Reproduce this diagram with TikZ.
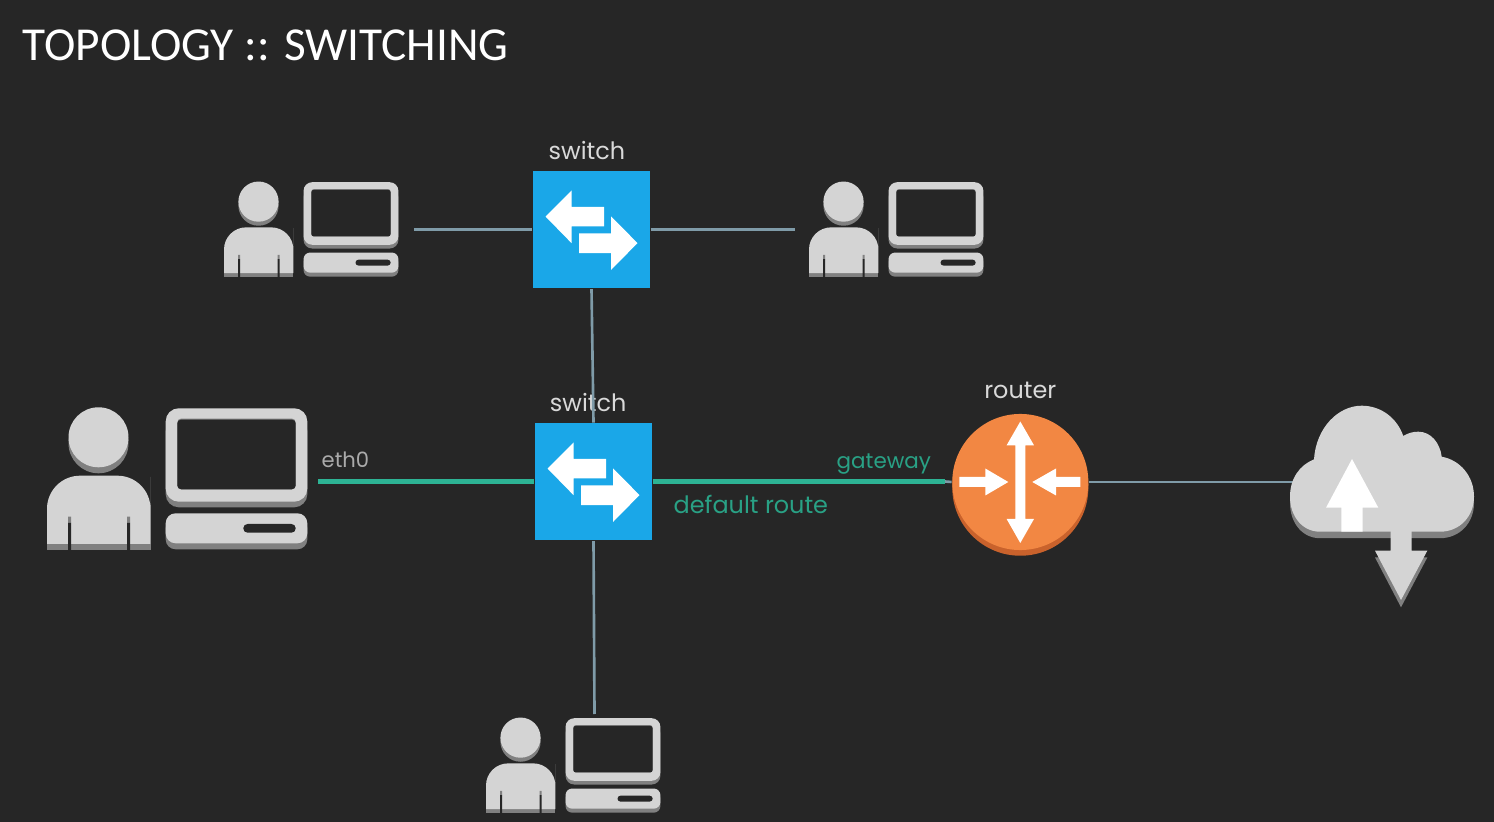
\documentclass[tikz,border=0pt]{standalone}
\usepackage{fontspec}
\usetikzlibrary{positioning}
\setmainfont{Carlito}
\newfontfamily\labelfont{Poppins}
\definecolor{bgdark}{HTML}{262626}
\definecolor{iconlight}{HTML}{D4D4D4}
\definecolor{iconshade}{HTML}{808080}
\definecolor{swblue}{HTML}{1AA7E8}
\definecolor{rtorange}{HTML}{F28743}
\definecolor{rtedge}{HTML}{C9622C}
\definecolor{routegreen}{HTML}{2DB394}
\definecolor{linkgrey}{HTML}{7F9BA8}
\tikzset{
  switchbox/.style={draw=none, fill=swblue, rectangle, minimum size=1.17cm, inner sep=0pt},
  routerdisc/.style={draw=none, fill=rtorange, circle, minimum size=1.36cm, inner sep=0pt},
  devlabel/.style={text=white!85!black, font=\labelfont\fontsize{6.8}{9}\selectfont, inner sep=0pt},
  routelabel/.style={text=routegreen!90!black, font=\labelfont\fontsize{6.8}{9}\selectfont, inner sep=0pt, anchor=base west},
  link/.style={draw=linkgrey, line width=0.75pt},
  route/.style={draw=routegreen, line width=1.7pt},
  userpc/.pic={
    \pgfmathsetmacro{\iconk}{#1}
    \begin{scope}[scale=#1]
      % person %
      \fill[iconshade] (51.5,35.3) circle[radius=30];
      \fill[iconlight] (51.5,29.3) circle[radius=30];
      \fill[iconshade] (0,136) rectangle (103.5,142);
      \fill[iconlight, rounded corners=9.4pt*\iconk] (0,102) -- (0,67.7) -- (103.5,67.7) -- (103.5,102) [sharp corners] -- (103.5,136) -- (0,136) -- cycle;
      \fill[iconshade] (21,108.7) rectangle (24,115) (80,108.7) rectangle (83,115);
      \fill[bgdark] (21,115) rectangle (24,142) (80,115) rectangle (83,142);
      % computer %
      \fill[iconshade, rounded corners=3.7pt*\iconk] (118.7,10) rectangle (260.3,99.3);
      \fill[iconlight, rounded corners=3.7pt*\iconk] (118.7,0.3) rectangle (260.3,93.7);
      \fill[iconshade, rounded corners=1.1pt*\iconk] (130.3,10.6) rectangle (248.7,81.3);
      \fill[bgdark, rounded corners=1.1pt*\iconk] (130.3,11.6) rectangle (248.7,81.3);
      \fill[iconshade, rounded corners=2.8pt*\iconk] (118.7,110) rectangle (260.3,141.3);
      \fill[iconlight, rounded corners=2.8pt*\iconk] (118.7,105.3) rectangle (260.3,135.3);
      \fill[bgdark, rounded corners=1.2pt*\iconk] (196.3,116) rectangle (248.7,124.7);
    \end{scope}
  },
  swarrows/.pic={
    \fill[white] (-46,-13.3) -- (-20,-39.3) -- (-20,-23) -- (12.7,-23) -- (12.7,-3.3) -- (-20,-3.3) -- (-20,13.3) -- cycle;
    \fill[white] (46,13.3) -- (19.7,-13.3) -- (19.7,3.7) -- (-12.3,3.7) -- (-12.3,23.3) -- (19.7,23.3) -- (19.7,40) -- cycle;
  },
  rtarrows/.pic={
    \fill[white] (0,-60.5) -- (13.7,-36.7) -- (5,-36.7) -- (5,37) -- (13.7,37) -- (0,61) -- (-13.7,37) -- (-5,37) -- (-5,-36.7) -- (-13.7,-36.7) -- cycle;
    \fill[white] (-61,-5) -- (-35,-5) -- (-35,-13.5) -- (-12,0) -- (-35,13.5) -- (-35,5) -- (-61,5) -- cycle;
    \fill[white] (60,-5) -- (35.7,-5) -- (35.7,-13.5) -- (12,0) -- (35.7,13.5) -- (35.7,5) -- (60,5) -- cycle;
  },
  cloudshape/.pic={
    \path[fill=#1] (1320,531.7) .. controls (1302,531.7) and (1290,516) .. (1290,496.7)
      .. controls (1290,478) and (1300,465) .. (1314,459.3)
      .. controls (1316,428) and (1338,405.7) .. (1361.7,405.7)
      .. controls (1381,405.7) and (1397,418) .. (1403.3,436)
      .. controls (1408,433) and (1413,431.7) .. (1418.3,431.7)
      .. controls (1431,431.7) and (1440,443) .. (1441.7,456.7)
      .. controls (1460,460) and (1474,476) .. (1474,496.7)
      .. controls (1474,516) and (1460,531.7) .. (1440,531.7) -- cycle;
  },
}
\begin{document}
\begin{tikzpicture}[x=0.01cm, y=-0.01cm]
        \fill[bgdark] (0,0) rectangle (1494,822);
        \useasboundingbox (0,0) rectangle (1494,822);
        \node[anchor=base west, text=white, inner sep=0pt, font=\fontsize{13.45}{15}\selectfont] (title) at (22,61) {TOPOLOGY :: SWITCHING};

        % nodes %
        \node[switchbox] (swa) at (591.5,229.8) {};
        \node[switchbox] (swb) at (593.5,481.8) {};
        \node[routerdisc, fill=rtedge] (rtbase) at (1020.3,487.7) {};
        \node[routerdisc] (rt) at (1020.3,482) {};
        \node[devlabel, above=2.9pt of swa, xshift=-1.3pt] (swalabel) {switch};
        \node[devlabel, above=2.8pt of swb, xshift=-1.5pt] (swblabel) {switch};
        \node[devlabel, above=3.8pt of rt] (rtlabel) {router};
        \node[routelabel, text=iconlight!80!black, font=\labelfont\fontsize{6}{9}\selectfont] (eth) at (321,467.5) {eth0};
        \node[routelabel, font=\labelfont\fontsize{6.1}{9}\selectfont] (gw) at (836,468.5) {gateway};
        \node[routelabel] (defroute) at (673,513.5) {default route};
        \coordinate (hosta) at (414,229.8);
        \coordinate (hostb) at (795,229.8);
        \coordinate (hostc) at (594.5,714);
        \coordinate (hostd) at (318,481.5);
        \coordinate (gwend) at (945,481.5);
        \coordinate (cloud) at (1296,482);

        % edges %
        \draw[link] (hosta) -- (swa.west);
        \draw[link] (swa.east) -- (hostb);
        \draw[link] (swa.south) -- (swb.north);
        \draw[link] (swb.south) -- (hostc);
        \draw[link] (gwend) -- (rt.west);
        \draw[link] (rt.east) -- (cloud);
        \draw[route] (hostd) -- (swb.west |- hostd);
        \draw[route] (swb.east |- gwend) -- (gwend);

        % icons %
        \pic at (swa) {swarrows};
        \pic at (swb) {swarrows};
        \pic at (rt) {rtarrows};
        \pic at (47,408) {userpc=1};
        \pic at (224,182) {userpc=0.67};
        \pic at (809,182) {userpc=0.67};
        \pic at (486,718) {userpc=0.67};

        % cloud %
        \pic at (0,6.5) {cloudshape=iconshade};
        \fill[iconshade] (1375,557.5) -- (1427.3,557.5) -- (1401,607.3) -- cycle;
        \pic at (0,0) {cloudshape=iconlight};
        \fill[iconlight] (1390.7,531) -- (1411.7,531) -- (1411.7,550.7) -- (1427.3,550.7) -- (1401,600) -- (1375,550.7) -- (1390.7,550.7) -- cycle;
        \fill[white] (1352,459) -- (1378.3,507.7) -- (1362.7,507.7) -- (1362.7,531.7) -- (1341.3,531.7) -- (1341.3,507.7) -- (1326,507.7) -- cycle;
      \end{tikzpicture}
\end{document}
